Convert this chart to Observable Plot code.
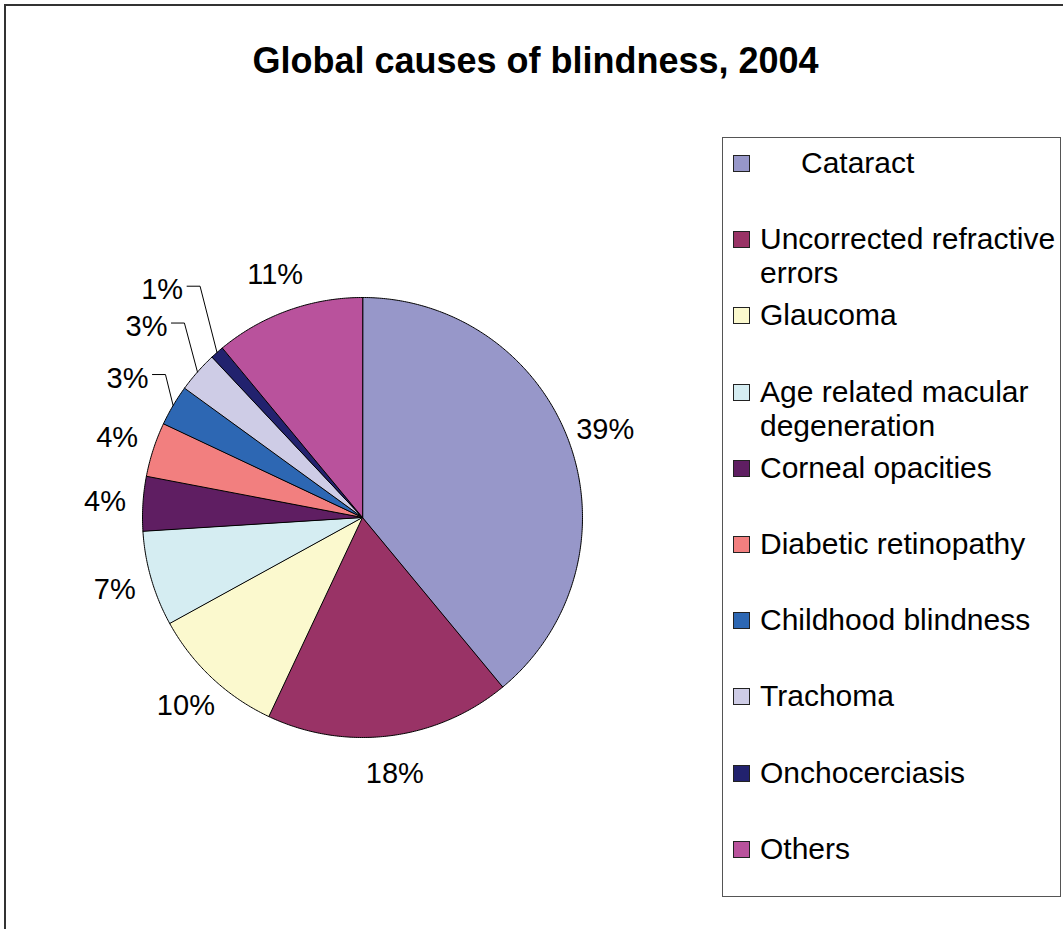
<!DOCTYPE html>
<html>
<head>
<meta charset="utf-8">
<script src="https://cdn.jsdelivr.net/npm/d3@7"></script>
<script src="https://cdn.jsdelivr.net/npm/@observablehq/plot@0.6"></script>
<style>
  html, body { margin: 0; padding: 0; background: #fff; }
  #page { position: relative; width: 1063px; height: 929px; overflow: hidden; background: #fff;
          font-family: "Liberation Sans", Arial, sans-serif; }
  #chart { position: absolute; left: 0; top: 0; width: 700px; height: 929px; }
  #title { position: absolute; left: 0; top: 43px; width: 1071px; text-align: center;
           font-weight: bold; font-size: 36px; line-height: 36px; color: #000; }
  #frame { position: absolute; left: 4px; top: 4px; width: 1200px; height: 1200px;
           border-left: 2px solid #333; border-top: 2px solid #333; pointer-events: none; }
  #legend { position: absolute; left: 722px; top: 137px; width: 339px; height: 760px;
            border: 1.5px solid #555; box-sizing: border-box; background: #fff; }
  .item { position: absolute; left: 0; width: 100%; }
  .sw { position: absolute; left: 10px; top: 9px; width: 15px; height: 15px; border: 1px solid #222; }
  .lab { position: absolute; left: 37px; top: 0; width: 300px; font-size: 30px; line-height: 34px; color: #000; }
</style>
</head>
<body>
<div id="page">
  <div id="chart"></div>
  <div id="legend"></div>
  <div id="title">Global causes of blindness, 2004</div>
  <div id="frame"></div>
</div>
<script>
// ---- data ----
const causes = ["Cataract", "Uncorrected refractive errors", "Glaucoma", "Age related macular degeneration",
  "Corneal opacities", "Diabetic retinopathy", "Childhood blindness", "Trachoma", "Onchocerciasis", "Others"];
const shares = [39, 18, 10, 7, 4, 4, 3, 3, 1, 11];
const colors = ["#9797C9", "#993366", "#FBF9CE", "#D5EDF2", "#5F1E62", "#F27F7F", "#2D67B3", "#CECCE6", "#22226E", "#B9529C"];

// ---- layout ----
const W = 700, H = 929, CX = 362, CY = 517, R = 220;
const FS = 29; // label font size
const total = d3.sum(shares);

const slices = [];
let acc = 0;
shares.forEach((v, i) => {
  const a0 = acc / total * 2 * Math.PI; acc += v;
  const a1 = acc / total * 2 * Math.PI;
  slices.push({name: causes[i], value: v, a0, a1, mid: (a0 + a1) / 2, pct: Math.round(v / total * 100) + "%"});
});

// wedge outlines in unit (radius = 1) coordinates, angle clockwise from 12 o'clock
const wedgePts = slices.flatMap(s => {
  const n = Math.max(2, Math.ceil((s.a1 - s.a0) / (Math.PI / 360)));
  const pts = [{name: s.name, x: 0, y: 0}];
  for (let k = 0; k <= n; k++) {
    const a = s.a0 + (s.a1 - s.a0) * k / n;
    pts.push({name: s.name, x: Math.sin(a), y: Math.cos(a)});
  }
  return pts;
});

// labels: normal ones just outside; small slices pushed out with leader lines
let smallRank = 0;
const labels = [];
const leaders = [];
slices.forEach(s => {
  const small = s.value <= 3;
  const rc = small ? (273 + 15 * smallRank++) : 258;
  const lx = Math.sin(s.mid) * rc / R, ly = Math.cos(s.mid) * rc / R;
  labels.push({text: s.pct, x: lx, y: ly});
  if (small) {
    const w = FS * (0.556 * (s.pct.length - 1) + 0.889);
    const sx = lx + (w / 2 + 4) / R, sy = ly + 4 / R;
    leaders.push({name: s.name, x: sx, y: sy});
    leaders.push({name: s.name, x: sx + 13 / R, y: sy});
    leaders.push({name: s.name, x: Math.sin(s.mid), y: Math.cos(s.mid)});
  }
});

const chart = Plot.plot({
  width: W, height: H, margin: 0,
  style: {background: "none", overflow: "visible"},
  x: {domain: [-CX / R, (W - CX) / R], axis: null},
  y: {domain: [-(H - CY) / R, CY / R], axis: null},
  color: {domain: causes, range: colors},
  marks: [
    Plot.line(wedgePts, {x: "x", y: "y", z: "name", fill: "name", stroke: "#000", strokeWidth: 1,
      strokeLinejoin: "miter", curve: "linear-closed"}),
    Plot.line(leaders, {x: "x", y: "y", z: "name", stroke: "#000", strokeWidth: 1, strokeLinejoin: "miter"}),
    Plot.text(labels, {x: "x", y: "y", text: "text", fontSize: FS, fill: "#000",
      fontFamily: "Liberation Sans, Arial, sans-serif"})
  ]
});
document.getElementById("chart").appendChild(chart);

// ---- legend ----
const legend = document.getElementById("legend");
causes.forEach((c, i) => {
  const item = document.createElement("div");
  item.className = "item";
  item.style.top = (8 + 76.2 * i) + "px";
  const sw = document.createElement("div");
  sw.className = "sw";
  sw.style.background = colors[i];
  const lab = document.createElement("div");
  lab.className = "lab";
  lab.textContent = c;
  if (i === 0) lab.style.left = "78px";
  item.appendChild(sw);
  item.appendChild(lab);
  legend.appendChild(item);
});
</script>
</body>
</html>
